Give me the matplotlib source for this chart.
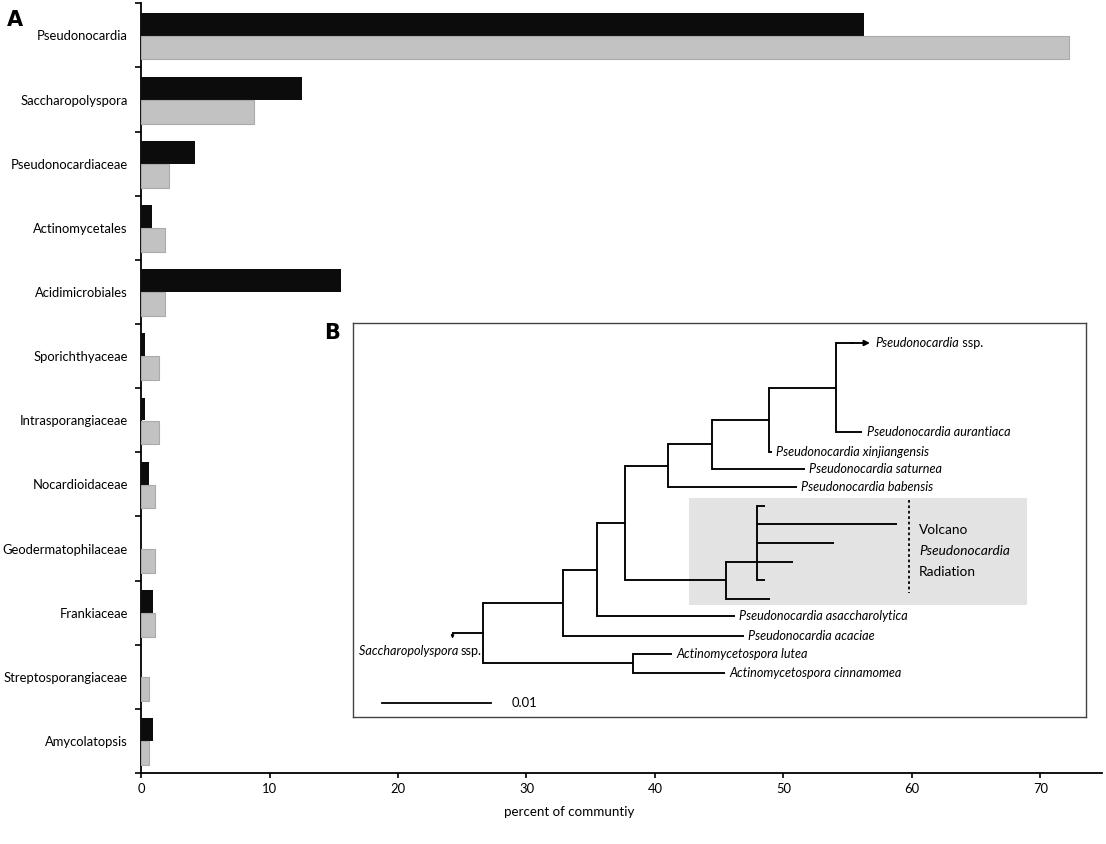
import matplotlib.pyplot as plt
from matplotlib.patches import Rectangle

plt.rcParams['font.family'] = ['Lato', 'DejaVu Sans']

# Panel A data: percent of community
taxa = ['Pseudonocardia', 'Saccharopolyspora', 'Pseudonocardiaceae', 'Actinomycetales',
        'Acidimicrobiales', 'Sporichthyaceae', 'Intrasporangiaceae', 'Nocardioidaceae',
        'Geodermatophilaceae', 'Frankiaceae', 'Streptosporangiaceae', 'Amycolatopsis']
black_vals = [56.3, 12.5, 4.2, 0.85, 15.6, 0.3, 0.3, 0.6, 0.0, 0.9, 0.0, 0.9]
gray_vals = [72.2, 8.8, 2.2, 1.9, 1.9, 1.4, 1.4, 1.1, 1.1, 1.1, 0.6, 0.6]
x_ticks = [0, 10, 20, 30, 40, 50, 60, 70]

# Panel B data: tree (branch depth in units of 0.01 substitutions, leaf rows)
leaf_keys = ['ssp', 'aur', 'xin', 'sat', 'bab', 'vo1', 'vo2', 'vo3', 'vo4', 'vo5', 'vo6',
             'asa', 'aca', 'lut', 'cin']
leaf_labels = ['Pseudonocardia', 'Pseudonocardia aurantiaca', 'Pseudonocardia xinjiangensis',
               'Pseudonocardia saturnea', 'Pseudonocardia babensis', '', '', '', '', '', '',
               'Pseudonocardia asaccharolytica', 'Pseudonocardia acaciae',
               'Actinomycetospora lutea', 'Actinomycetospora cinnamomea']
leaf_rows = [0, 4.8, 5.85, 6.75, 7.75, 8.75, 9.75, 10.75, 11.75, 12.75, 13.75,
             14.7, 15.75, 16.7, 17.75]
leaf_tips = [3.55, 3.48, 2.65, 2.95, 2.88, 2.59, 3.80, 3.22, 2.84, 2.59, 2.63,
             2.31, 2.39, 1.73, 2.22]

node_depth = {'root': 0.0, 'a': 0.73, 'b': 1.05, 'n5': 1.30, 'n4': 1.70, 'n3': 2.10,
              'n2': 2.62, 'n1': 3.24, 'v1': 2.23, 'v2': 2.51, 'act': 1.38}
node_children = {'root': ['a', 'act'], 'a': ['b', 'aca'], 'b': ['n5', 'asa'],
                 'n5': ['n4', 'v1'], 'n4': ['n3', 'bab'], 'n3': ['n2', 'sat'],
                 'n2': ['n1', 'xin'], 'n1': ['ssp', 'aur'], 'v1': ['v2', 'vo6'],
                 'v2': ['vo1', 'vo2', 'vo3', 'vo4', 'vo5'], 'act': ['lut', 'cin']}
node_anchor = {'v2': 'vo4'}

outgroup_label = 'Saccharopolyspora'
outgroup_row = 15.6
outgroup_tip = -0.28

fig = plt.figure(figsize=(11.06, 8.44), dpi=100)
ax = fig.add_axes([0.1275, 0.0841, 0.869, 0.912])

y = list(range(len(taxa)))
ax.barh([i - 0.175 for i in y], black_vals, height=0.355, color='#0c0c0c', zorder=3)
ax.barh([i + 0.19 for i in y], gray_vals, height=0.37, color='#c2c2c2',
        edgecolor='#aaaaaa', linewidth=0.8, zorder=3)

ax.set_ylim(len(taxa) - 0.5, -0.5)
ax.set_xlim(0, 74.8)
ax.set_yticks(y)
ax.set_yticklabels(taxa, fontsize=9.4)
ax.set_yticks([i - 0.5 for i in range(len(taxa) + 1)], minor=True)
ax.tick_params(axis='y', which='major', length=0, pad=9.5)
ax.tick_params(axis='y', which='minor', length=4, width=1.2, direction='out')
ax.set_xticks(x_ticks)
ax.tick_params(axis='x', length=3.5, width=1.2, labelsize=9.4, pad=3.5)
for s in ['top', 'right']:
    ax.spines[s].set_visible(False)
for s in ['left', 'bottom']:
    ax.spines[s].set_linewidth(1.3)
ax.set_xlabel('percent of communtiy', fontsize=9.6)
ax.xaxis.set_label_coords(0.445, -0.043)

fig.text(0.0135, 0.976, 'A', fontsize=15, fontweight='bold', va='center', ha='center',
         family='DejaVu Sans')
fig.text(0.3005, 0.6055, 'B', fontsize=15, fontweight='bold', va='center', ha='center',
         family='DejaVu Sans')

# Panel B inset
bx = fig.add_axes([0.3192, 0.1505, 0.6627, 0.4668])
bx.set_xlim(-1.193, 5.532)
bx.set_ylim(20.11, -1.075)
bx.set_xticks([])
bx.set_yticks([])
for s in bx.spines.values():
    s.set_color('#444444')
    s.set_linewidth(1.0)

bx.add_patch(Rectangle((1.89, 8.33), 3.10, 5.76, facecolor='#e3e3e3', edgecolor='none', zorder=0))
bx.plot([3.908, 3.908], [8.44, 13.44], color='black', lw=1.3, ls=(0, (1.5, 1.5)))
bx.text(4.0, 10.05, 'Volcano', fontsize=9.8, va='center')
bx.text(4.0, 11.18, 'Pseudonocardia', fontsize=9.8, va='center', style='italic')
bx.text(4.0, 12.31, 'Radiation', fontsize=9.8, va='center')

leaves = {k: (r, t, lab) for k, r, t, lab in zip(leaf_keys, leaf_rows, leaf_tips, leaf_labels)}
lw_tree = 1.35
fs_leaf = 9.1


def draw(key, parent_x):
    if key in leaves:
        row, tip, lab = leaves[key]
        end = tip - 0.15 if key == 'ssp' else tip
        bx.plot([parent_x, end], [row, row], color='black', lw=lw_tree, solid_capstyle='butt')
        if key == 'ssp':
            bx.annotate('', xy=(tip, row), xytext=(end - 0.02, row),
                        arrowprops=dict(arrowstyle='-|>', color='black', lw=lw_tree,
                                        mutation_scale=8, shrinkA=0, shrinkB=0))
            t = bx.text(tip + 0.05, row, lab, fontsize=fs_leaf, style='italic', va='center')
            bx.annotate(' ssp.', xy=(1, 0.5), xycoords=t, fontsize=fs_leaf, va='center')
        elif lab:
            bx.text(tip + 0.04, row, lab, fontsize=fs_leaf, style='italic', va='center')
        return row
    d = node_depth[key]
    ys = [draw(c, d) for c in node_children[key]]
    bx.plot([d, d], [min(ys), max(ys)], color='black', lw=lw_tree, solid_capstyle='projecting')
    yy = leaves[node_anchor[key]][0] if key in node_anchor else (min(ys) + max(ys)) / 2
    if parent_x is not None:
        bx.plot([parent_x, d], [yy, yy], color='black', lw=lw_tree, solid_capstyle='butt')
    return yy


draw('root', None)

# outgroup branch going left from root
bx.plot([node_depth['root'], outgroup_tip], [outgroup_row, outgroup_row], color='black', lw=lw_tree)
bx.annotate('', xy=(outgroup_tip, outgroup_row + 0.3), xytext=(outgroup_tip, outgroup_row),
            arrowprops=dict(arrowstyle='-|>', color='black', lw=1.0, mutation_scale=4,
                            shrinkA=0, shrinkB=0))
t2 = bx.text(-0.01, 16.56, 'ssp.', fontsize=fs_leaf, ha='right', va='center')
bx.annotate(outgroup_label + ' ', xy=(0, 0.5), xycoords=t2, fontsize=fs_leaf, style='italic',
            ha='right', va='center')

# scale bar: 1 unit = 0.01
bx.plot([-0.927, 0.073], [19.35, 19.35], color='black', lw=1.3)
bx.text(0.266, 19.35, '0.01', fontsize=9.4, va='center')

fig.savefig('out.png', dpi=100)
